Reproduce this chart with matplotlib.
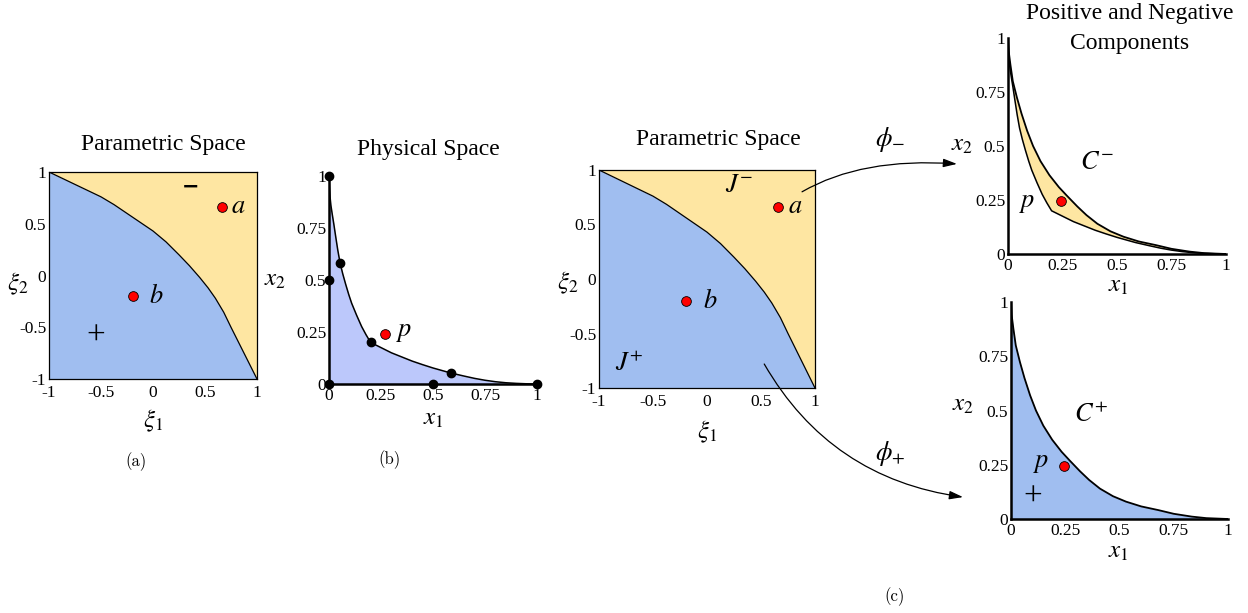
import numpy as np
import matplotlib.pyplot as plt
from matplotlib.patches import ConnectionPatch

plt.rcParams['font.family'] = ['Liberation Serif', 'DejaVu Serif']
plt.rcParams['mathtext.fontset'] = 'stix'

W, H = 1248, 613

# boundary between the + and - parts of the parametric square
xi1_edge = [-1, -0.875, -0.75, -0.625, -0.5, -0.375, -0.25, -0.125, 0, 0.125, 0.25, 0.35,
            0.45, 0.53, 0.6, 0.68, 0.75, 0.82, 0.88, 0.94, 1]
xi2_edge = [1, 0.94, 0.88, 0.82, 0.76, 0.685, 0.6, 0.515, 0.43, 0.325, 0.2, 0.095,
            -0.02, -0.12, -0.22, -0.355, -0.5, -0.64, -0.76, -0.88, -1]
pt_a = (0.66, 0.66)
pt_b = (-0.19, -0.2)
param_ticks = [-1, -0.5, 0, 0.5, 1]
param_labels = ['-1', '-0.5', '0', '0.5', '1']

# physical element boundary (kinked at 0.2, 0.2) and the smooth outer curve
inner_x1 = [0, 0.002, 0.005, 0.009, 0.015, 0.023, 0.032, 0.042, 0.053, 0.066, 0.08, 0.095,
            0.109, 0.133, 0.157, 0.178, 0.2, 0.25, 0.3, 0.35, 0.4, 0.45, 0.5, 0.585, 0.65,
            0.7, 0.75, 0.8, 0.85, 0.9, 0.95, 1]
inner_x2 = [1, 0.95, 0.9, 0.86, 0.82, 0.77, 0.71, 0.645, 0.583, 0.53, 0.48, 0.43,
            0.388, 0.33, 0.276, 0.237, 0.2, 0.175, 0.15, 0.13, 0.11, 0.093, 0.077, 0.053, 0.038,
            0.027, 0.018, 0.011, 0.006, 0.003, 0.001, 0]
outer_x1 = [0, 0.003, 0.011, 0.022, 0.041, 0.062, 0.088, 0.115, 0.149, 0.19, 0.233, 0.27,
            0.318, 0.36, 0.41, 0.47, 0.53, 0.6, 0.679, 0.75, 0.833, 0.9, 1]
outer_x2 = [1, 0.94, 0.877, 0.8, 0.724, 0.65, 0.57, 0.5, 0.43, 0.365, 0.31, 0.27,
            0.22, 0.18, 0.14, 0.105, 0.08, 0.058, 0.041, 0.024, 0.011, 0.004, 0]
node_x1 = [0, 0, 0, 0.5, 1, 0.053, 0.2, 0.585]
node_x2 = [1, 0.5, 0, 0, 0, 0.583, 0.2, 0.053]
pt_p = (0.245, 0.245)
phys_ticks = [0, 0.25, 0.5, 0.75, 1]
phys_labels = ['0', '0.25', '0.5', '0.75', '1']

YELLOW = '#fee6a2'
BLUE = '#a0bef0'
LAVENDER = '#bcc8fb'

fig = plt.figure(figsize=(W / 100, H / 100), dpi=100)


def add_ax(l, t, r, b):
    return fig.add_axes([l / W, 1 - b / H, (r - l) / W, (b - t) / H])


def ftext(x, y, s, size=17, **kw):
    fig.text(x / W, 1 - y / H, s, ha='center', va='center', fontsize=size, **kw)


def red_dot(ax, pt):
    ax.plot(pt[0], pt[1], 'o', color='red', mec='black', mew=0.6, ms=7, clip_on=False, zorder=5)


def param_panel(ax):
    ax.fill_between(xi1_edge, xi2_edge, -1, color=BLUE, lw=0)
    ax.fill_between(xi1_edge, xi2_edge, 1, color=YELLOW, lw=0)
    ax.plot(xi1_edge, xi2_edge, color='black', lw=0.9)
    ax.set_xlim(-1, 1)
    ax.set_ylim(-1, 1)
    ax.set_xticks(param_ticks)
    ax.set_xticklabels(param_labels)
    ax.set_yticks(param_ticks)
    ax.set_yticklabels(param_labels)
    ax.tick_params(length=0, labelsize=12.5, pad=4)
    ax.tick_params(axis='y', pad=2)
    for s in ax.spines.values():
        s.set_linewidth(0.9)
    red_dot(ax, pt_a)
    red_dot(ax, pt_b)
    ax.text(pt_a[0] + 0.16, pt_a[1], '$a$', fontsize=19, ha='center', va='center')
    ax.text(pt_b[0] + 0.22, pt_b[1], '$b$', fontsize=19, ha='center', va='center')


def phys_axes(ax):
    ax.set_xlim(0, 1)
    ax.set_ylim(0, 1)
    ax.set_xticks(phys_ticks)
    ax.set_xticklabels(phys_labels)
    ax.set_yticks(phys_ticks)
    ax.set_yticklabels(phys_labels)
    ax.tick_params(length=0, labelsize=12.5, pad=3)
    ax.tick_params(axis='y', pad=2)
    ax.spines['top'].set_visible(False)
    ax.spines['right'].set_visible(False)
    ax.spines['left'].set_linewidth(1.8)
    ax.spines['bottom'].set_linewidth(1.8)
    ax.patch.set_alpha(0)


# (a) parametric space
ax_a = add_ax(49, 172, 257, 379)
param_panel(ax_a)
ax_a.text(-0.55, -0.59, '+', fontsize=24, ha='center', va='center')
ax_a.text(0.365, 0.86, '\u2212', fontsize=15, fontweight='bold', family='DejaVu Sans',
          ha='center', va='center')
ftext(163, 145, 'Parametric Space')
ftext(153, 421, r'$\xi_1$', 18)
ftext(18, 284, r'$\xi_2$', 18)
fig.text(136 / W, 1 - 462 / H, '(a)', fontsize=12, family='cmr10', ha='center', va='center')

# (b) physical space
ax_b = add_ax(329, 176, 537, 384)
phys_axes(ax_b)
ax_b.fill_between(inner_x1, inner_x2, 0, color=LAVENDER, lw=0)
ax_b.plot(inner_x1, inner_x2, color='black', lw=1.1)
ax_b.plot(node_x1, node_x2, 'o', color='black', ms=6, clip_on=False, zorder=5)
red_dot(ax_b, (0.27, 0.24))
ax_b.text(0.36, 0.245, '$p$', fontsize=19, ha='center', va='center')
ftext(428, 150, 'Physical Space')
ftext(433, 419, '$x_1$', 18)
ftext(275, 280, '$x_2$', 18)
fig.text(390 / W, 1 - 460 / H, '(b)', fontsize=12, family='cmr10', ha='center', va='center')

# (c) parametric space with J+ / J-
ax_c = add_ax(599, 170, 815, 388)
param_panel(ax_c)
ax_c.text(0.3, 0.85, '$J^{-}$', fontsize=19, ha='center', va='center')
ax_c.text(-0.72, -0.78, '$J^{+}$', fontsize=19, ha='center', va='center')
ftext(718, 140, 'Parametric Space')
ftext(707, 432, r'$\xi_1$', 18)
ftext(568, 283, r'$\xi_2$', 18)

# negative component
ax_m = add_ax(1008, 38, 1226, 254)
phys_axes(ax_m)
ax_m.fill(np.concatenate([outer_x1, inner_x1[::-1]]), np.concatenate([outer_x2, inner_x2[::-1]]),
          color=YELLOW, lw=0)
ax_m.plot(outer_x1, outer_x2, color='black', lw=1.3)
ax_m.plot(inner_x1, inner_x2, color='black', lw=1.1)
red_dot(ax_m, pt_p)
ax_m.text(0.09, 0.23, '$p$', fontsize=19, ha='center', va='center')
ax_m.text(0.41, 0.42, '$C^{-}$', fontsize=19, ha='center', va='center')
ftext(1130, 13, 'Positive and Negative')
ftext(1130, 43, 'Components')
ftext(962, 145, '$x_2$', 18)
ftext(1118, 286, '$x_1$', 18)

# positive component
ax_p = add_ax(1011, 302, 1228, 519)
phys_axes(ax_p)
ax_p.fill_between(outer_x1, outer_x2, 0, color=BLUE, lw=0)
ax_p.plot(outer_x1, outer_x2, color='black', lw=1.3)
red_dot(ax_p, pt_p)
ax_p.text(0.14, 0.255, '$p$', fontsize=19, ha='center', va='center')
ax_p.text(0.37, 0.48, '$C^{+}$', fontsize=19, ha='center', va='center')
ax_p.text(0.1, 0.1, '+', fontsize=24, ha='center', va='center')
ftext(963, 405, '$x_2$', 18)
ftext(1118, 552, '$x_1$', 18)

# mapping arrows
arrow = '-|>,head_length=0.55,head_width=0.17'
con_m = ConnectionPatch(xyA=(0.88, 0.8), coordsA=ax_c.transData,
                        xyB=(-0.234, 0.417), coordsB=ax_m.transData,
                        arrowstyle=arrow, connectionstyle='angle3,angleA=30,angleB=-4',
                        color='black', lw=0.9, shrinkA=0, shrinkB=0, mutation_scale=15)
fig.add_artist(con_m)
con_p = ConnectionPatch(xyA=(0.53, -0.78), coordsA=ax_c.transData,
                        xyB=(-0.221, 0.101), coordsB=ax_p.transData,
                        arrowstyle=arrow, connectionstyle='angle3,angleA=-60,angleB=-8',
                        color='black', lw=0.9, shrinkA=0, shrinkB=0, mutation_scale=15)
fig.add_artist(con_p)
ftext(890, 140, r'$\phi_{-}$', 19)
ftext(890, 453, r'$\phi_{+}$', 19)

fig.text(895 / W, 1 - 597 / H, '(c)', fontsize=12, family='cmr10', ha='center', va='center')

fig.savefig('out.png', dpi=100)
